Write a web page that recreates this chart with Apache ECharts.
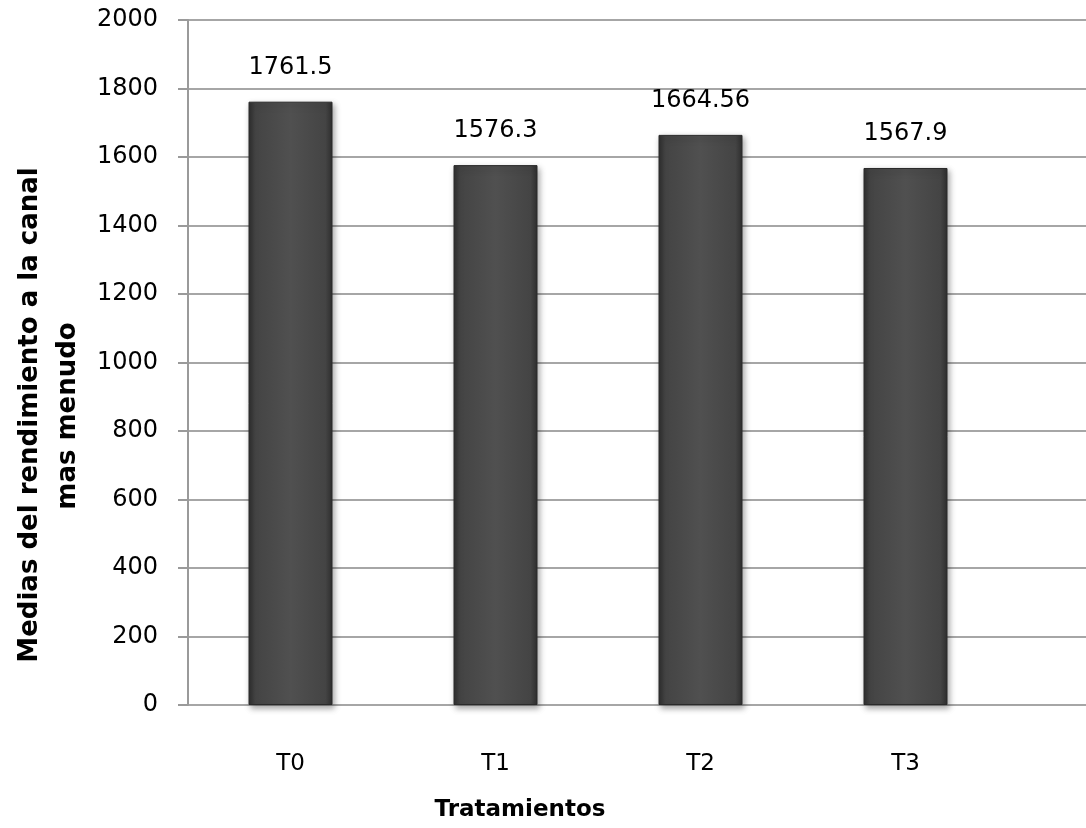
<!DOCTYPE html>
<html>
<head>
<meta charset="utf-8">
<script src="https://cdn.jsdelivr.net/npm/echarts@6/dist/echarts.min.js"></script>
<style>
  html, body { margin: 0; padding: 0; background: #fff; }
  #chart { width: 1086px; height: 828px; }
</style>
</head>
<body>
<div id="chart"></div>
<script>
// Treatment means
const categories = ['T0', 'T1', 'T2', 'T3'];
const values = [1761.5, 1576.3, 1664.56, 1567.9];
const valueLabels = ['1761.5', '1576.3', '1664.56', '1567.9'];
const yMin = 0;
const yMax = 2000;
const yStep = 200;

const FONT = '"DejaVu Sans", sans-serif';
const chart = echarts.init(document.getElementById('chart'));

const barFill = new echarts.graphic.LinearGradient(0, 0, 1, 0, [
  { offset: 0, color: '#2e2e2e' },
  { offset: 0.08, color: '#444444' },
  { offset: 0.5, color: '#505050' },
  { offset: 0.92, color: '#444444' },
  { offset: 1, color: '#2e2e2e' }
]);

chart.setOption({
  backgroundColor: '#ffffff',
  animation: false,
  grid: [
    // full-width grid carrying the value axis and its gridlines
    { left: 188, right: -2, top: 20, bottom: 123 },
    // narrower grid holding the four category bands
    { left: 188, width: 820, top: 20, bottom: 123 }
  ],
  xAxis: [
    {
      gridIndex: 0, type: 'value', min: 0, max: 1, show: true,
      axisLine: { show: false }, axisTick: { show: false },
      axisLabel: { show: false }, splitLine: { show: false }
    },
    {
      gridIndex: 1, type: 'category', data: categories,
      axisLine: { show: false }, axisTick: { show: false },
      axisLabel: { margin: 48, fontSize: 23, color: '#000', fontFamily: FONT },
      splitLine: { show: false }
    }
  ],
  yAxis: [
    {
      gridIndex: 0, type: 'value', min: yMin, max: yMax, interval: yStep,
      axisLine: { show: true, lineStyle: { color: '#9a9a9a', width: 2 } },
      axisTick: { show: true, length: 10, lineStyle: { color: '#9a9a9a', width: 2 } },
      axisLabel: {
        margin: 30, fontSize: 24, color: '#000', fontFamily: FONT,
        formatter: v => String(v)
      },
      splitLine: { show: true, lineStyle: { color: '#a6a6a6', width: 2 } }
    },
    {
      gridIndex: 1, type: 'value', min: yMin, max: yMax, interval: yStep,
      show: false, splitLine: { show: false }
    }
  ],
  graphic: [
    {
      type: 'text',
      x: 30, y: 415, rotation: Math.PI / 2,
      style: {
        text: 'Medias del rendimiento a la canal',
        font: 'bold 26px ' + FONT, fill: '#000',
        textAlign: 'center', textVerticalAlign: 'middle'
      }
    },
    {
      type: 'text',
      x: 68, y: 416, rotation: Math.PI / 2,
      style: {
        text: 'mas menudo',
        font: 'bold 26px ' + FONT, fill: '#000',
        textAlign: 'center', textVerticalAlign: 'middle'
      }
    },
    {
      type: 'text',
      x: 520, y: 810,
      style: {
        text: 'Tratamientos',
        font: 'bold 23px ' + FONT, fill: '#000',
        textAlign: 'center', textVerticalAlign: 'middle'
      }
    }
  ],
  series: [{
    type: 'bar',
    xAxisIndex: 1, yAxisIndex: 1,
    data: values,
    barWidth: 84,
    itemStyle: {
      color: barFill,
      borderColor: '#2a2a2a', borderWidth: 1,
      shadowColor: 'rgba(0,0,0,0.35)', shadowBlur: 6, shadowOffsetX: 2, shadowOffsetY: 3
    },
    label: {
      show: true, position: 'top', distance: 22,
      fontSize: 24, color: '#000', fontFamily: FONT,
      formatter: p => valueLabels[p.dataIndex]
    }
  }]
});
</script>
</body>
</html>
